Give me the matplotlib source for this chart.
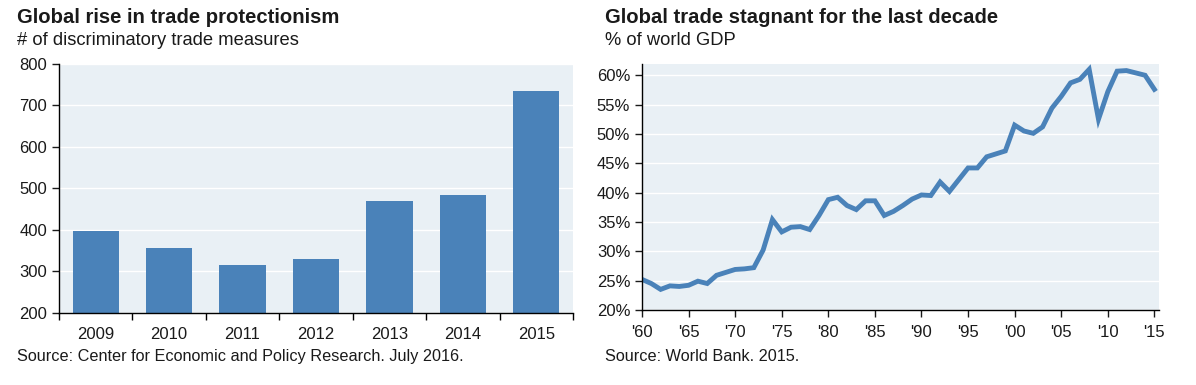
import matplotlib.pyplot as plt
from matplotlib.ticker import FixedLocator, FuncFormatter

plt.rcParams['font.family'] = ['Liberation Sans', 'DejaVu Sans']

# left panel: discriminatory trade measures
years_bar = ['2009', '2010', '2011', '2012', '2013', '2014', '2015']
measures = [397, 357, 315, 329, 470, 483, 734]

# right panel: world trade, % of GDP
years_line = list(range(1960, 2016))
trade_gdp = [25.2, 24.5, 23.5, 24.1, 24.0, 24.2, 24.9, 24.5, 25.9, 26.4,
             26.9, 27.0, 27.2, 30.2, 35.4, 33.3, 34.1, 34.2, 33.7, 36.1,
             38.8, 39.2, 37.8, 37.1, 38.6, 38.6, 36.1, 36.8, 37.8, 38.9,
             39.6, 39.5, 41.8, 40.2, 42.2, 44.2, 44.2, 46.1, 46.6, 47.1,
             51.5, 50.5, 50.1, 51.2, 54.4, 56.4, 58.7, 59.3, 61.0, 52.5,
             57.2, 60.7, 60.8, 60.4, 60.0, 57.6]

bg = '#e9f0f5'
blue = '#4a82b9'
txt = '#1a1a1a'

fig = plt.figure(figsize=(11.96, 3.85), dpi=100)
ax1 = fig.add_axes([0.0493, 0.187, 0.4298, 0.648])
ax2 = fig.add_axes([0.5368, 0.195, 0.4323, 0.640])

for ax in (ax1, ax2):
    ax.set_facecolor(bg)
    ax.spines['top'].set_visible(False)
    ax.spines['right'].set_visible(False)
    ax.spines['left'].set_linewidth(1)
    ax.spines['bottom'].set_linewidth(1)
    ax.grid(axis='y', color='white', linewidth=1)
    ax.set_axisbelow(True)
    ax.tick_params(axis='both', labelsize=12, colors=txt, length=5, width=1, direction='out')

# bars
x = range(len(years_bar))
ax1.bar(x, measures, width=0.63, color=blue)
ax1.set_xlim(-0.5, len(years_bar) - 0.5)
ax1.set_ylim(200, 800)
ax1.set_yticks(range(200, 801, 100))
ax1.set_xticks(list(x))
ax1.set_xticklabels(years_bar)
ax1.xaxis.set_minor_locator(FixedLocator([i - 0.5 for i in range(len(years_bar) + 1)]))
ax1.tick_params(axis='x', which='major', length=0, pad=10)
ax1.tick_params(axis='x', which='minor', length=5, width=1)

# line
ax2.plot(years_line, trade_gdp, color=blue, linewidth=3.5, solid_joinstyle='miter')
ax2.set_xlim(1960, 2015.5)
ax2.set_ylim(20, 62)
ax2.set_yticks(range(20, 61, 5))
ax2.yaxis.set_major_formatter(FuncFormatter(lambda v, p: f'{v:.0f}%'))
ax2.set_xticks(range(1960, 2016, 5))
ax2.xaxis.set_major_formatter(FuncFormatter(lambda v, p: "'" + f'{int(v) % 100:02d}'))
ax2.tick_params(axis='x', pad=6)

# titles and sources
fig.text(0.0142, 0.955, 'Global rise in trade protectionism', fontsize=14.6,
         fontweight='bold', color=txt, va='center')
fig.text(0.0142, 0.896, '# of discriminatory trade measures', fontsize=13.2,
         color=txt, va='center')
fig.text(0.0142, 0.073, 'Source: Center for Economic and Policy Research. July 2016.',
         fontsize=11.7, color=txt, va='center')

fig.text(0.5055, 0.955, 'Global trade stagnant for the last decade', fontsize=14.6,
         fontweight='bold', color=txt, va='center')
fig.text(0.5055, 0.896, '% of world GDP', fontsize=13.2, color=txt, va='center')
fig.text(0.5055, 0.073, 'Source: World Bank. 2015.', fontsize=11.7, color=txt, va='center')

fig.savefig('out.png', dpi=100)
